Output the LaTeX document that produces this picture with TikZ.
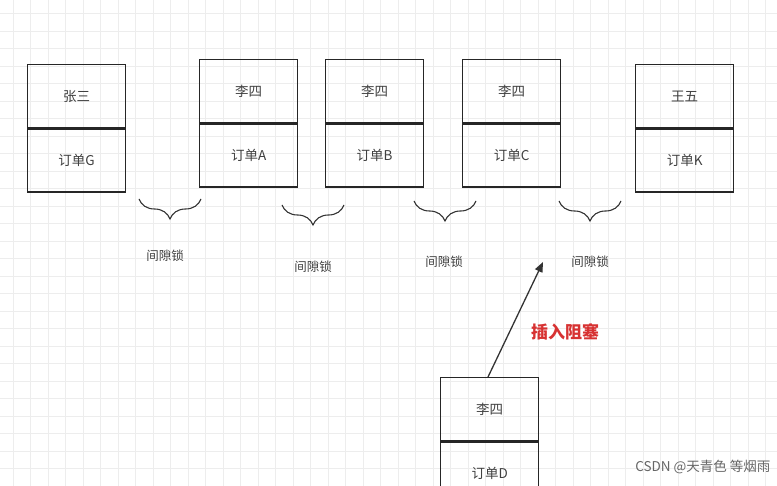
\documentclass[tikz,border=0pt]{standalone}
\usepackage{fontspec}
\setmainfont{Noto Sans CJK SC}
\usetikzlibrary{decorations.pathreplacing,arrows.meta}
\begin{document}
\begin{tikzpicture}[x=1pt,y=-1pt,
  cell/.style={draw=black!85,line width=1.3pt,minimum width=98pt,inner sep=0pt,font=\fontsize{13.5}{15}\selectfont,text=black!75},
  gapbrace/.style={decoration={brace,amplitude=20pt},decorate,draw=black!80,line width=1.1pt},
  lbl/.style={font=\fontsize{12.5}{14}\selectfont,text=black!75}]
\fill[white] (0,0) rectangle (777,486);
\useasboundingbox (0,0) rectangle (777,486);
\foreach \i in {0,...,45} {\draw[black!7,line width=0.6pt] (13+17.5*\i,0) -- (13+17.5*\i,486);}
\foreach \j in {0,...,28} {\draw[black!7,line width=0.6pt] (0,-4+17.5*\j) -- (777,-4+17.5*\j);}
% boxes
\node[cell,minimum height=63pt,anchor=north west] (a1) at (27,64) {张三};
\node[cell,minimum height=63pt,anchor=north] (a2) at (a1.south) {订单G};
\node[cell,minimum height=63pt,anchor=north west] (b1) at (199,59) {李四};
\node[cell,minimum height=63pt,anchor=north] (b2) at (b1.south) {订单A};
\node[cell,minimum height=63pt,anchor=north west] (c1) at (325,59) {李四};
\node[cell,minimum height=63pt,anchor=north] (c2) at (c1.south) {订单B};
\node[cell,minimum height=63pt,anchor=north west] (d1) at (462,59) {李四};
\node[cell,minimum height=63pt,anchor=north] (d2) at (d1.south) {订单C};
\node[cell,minimum height=63pt,anchor=north west] (e1) at (635,64) {王五};
\node[cell,minimum height=63pt,anchor=north] (e2) at (e1.south) {订单K};
\node[cell,minimum height=63pt,anchor=north west] (f1) at (440,377) {李四};
\node[cell,minimum height=63pt,anchor=north] (f2) at (f1.south) {订单D};
% braces
\coordinate (g1l) at (139,199); \coordinate (g1r) at (201,199);
\coordinate (g2l) at (282,205); \coordinate (g2r) at (344,205);
\coordinate (g3l) at (414,201); \coordinate (g3r) at (476,201);
\coordinate (g4l) at (559,201); \coordinate (g4r) at (621,201);
\draw[gapbrace] (g1r) -- (g1l);
\draw[gapbrace] (g2r) -- (g2l);
\draw[gapbrace] (g3r) -- (g3l);
\draw[gapbrace] (g4r) -- (g4l);
\node[lbl] (l1) at (165,256) {间隙锁};
\node[lbl] (l2) at (313,267) {间隙锁};
\node[lbl] (l3) at (444,262) {间隙锁};
\node[lbl] (l4) at (590,262) {间隙锁};
% arrow
\coordinate (tail) at (488,377);
\coordinate (tip) at (543,262);
\draw[black!80,line width=1.3pt,-{Triangle[length=10pt,width=8pt]}] (tail) -- (tip);
\node[font=\fontsize{17}{19}\selectfont\bfseries,text={rgb,255:red,215;green,50;blue,50}] (blk) at (565,332) {插入阻塞};
\node[font=\fontsize{13.5}{15}\selectfont,text=black!60,anchor=east] (wm) at (774,467) {CSDN @天青色 等烟雨};
\end{tikzpicture}
\end{document}
